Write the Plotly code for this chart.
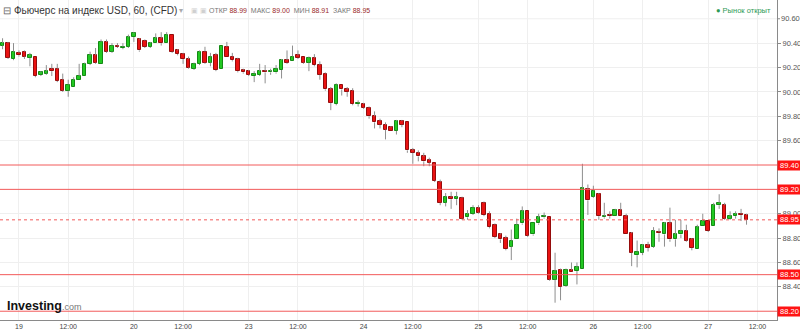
import plotly.graph_objects as go

# ---------------- data (hourly bars) ----------------
opens = [90.38, 90.40, 90.27, 90.32, 90.33, 90.28, 90.29, 90.14, 90.15, 90.19,
         90.19, 90.10, 90.01, 90.04, 90.10, 90.13, 90.23, 90.30, 90.23, 90.41,
         90.33, 90.38, 90.36, 90.37, 90.45, 90.43, 90.42, 90.37, 90.40, 90.44,
         90.40, 90.47, 90.34, 90.31, 90.27, 90.19, 90.23, 90.33, 90.24, 90.30,
         90.19, 90.37, 90.29, 90.27, 90.18, 90.17, 90.13, 90.14, 90.17, 90.16,
         90.16, 90.18, 90.26, 90.25, 90.30, 90.29, 90.24, 90.28, 90.22, 90.15,
         90.02, 89.90, 90.06, 90.02, 90.01, 89.90, 89.90, 89.87, 89.80, 89.76,
         89.73, 89.71, 89.68, 89.76, 89.75, 89.52, 89.50, 89.47, 89.44, 89.42,
         89.26, 89.09, 89.14, 89.12, 89.13, 88.97, 89.00, 89.05, 89.09, 89.00,
         88.91, 88.83, 88.80, 88.73, 88.79, 88.92, 89.02, 88.83, 88.92, 88.97,
         88.97, 88.46, 88.54, 88.41, 88.54, 88.53, 88.55, 89.20, 89.14, 89.16,
         88.97, 88.99, 88.98, 89.03, 88.98, 88.84, 88.66, 88.68, 88.74, 88.73,
         88.85, 88.83, 88.92, 88.79, 88.83, 88.86, 88.79, 88.71, 88.90, 88.94,
         88.90, 89.07, 89.07, 88.96, 88.98, 89.00, 88.99]
highs = [90.44, 90.41, 90.40, 90.34, 90.34, 90.32, 90.29, 90.17, 90.22, 90.23,
         90.23, 90.15, 90.10, 90.12, 90.23, 90.24, 90.33, 90.36, 90.43, 90.43,
         90.40, 90.40, 90.40, 90.47, 90.49, 90.44, 90.43, 90.41, 90.48, 90.49,
         90.49, 90.47, 90.35, 90.32, 90.29, 90.24, 90.34, 90.37, 90.32, 90.32,
         90.38, 90.41, 90.32, 90.28, 90.19, 90.18, 90.17, 90.23, 90.22, 90.19,
         90.22, 90.27, 90.34, 90.38, 90.34, 90.29, 90.29, 90.31, 90.25, 90.16,
         90.04, 90.07, 90.06, 90.04, 90.03, 89.93, 89.91, 89.88, 89.84, 89.78,
         89.75, 89.72, 89.77, 89.77, 89.75, 89.54, 89.52, 89.50, 89.46, 89.42,
         89.28, 89.17, 89.18, 89.18, 89.14, 89.03, 89.07, 89.07, 89.10, 89.02,
         88.92, 88.84, 88.82, 88.87, 88.96, 89.06, 89.02, 88.92, 89.00, 89.01,
         88.97, 88.68, 88.55, 88.55, 88.60, 88.60, 89.41, 89.24, 89.23, 89.17,
         89.09, 89.02, 89.04, 89.09, 89.00, 88.85, 88.78, 88.75, 88.77, 88.89,
         88.88, 88.93, 89.05, 88.95, 88.95, 88.91, 88.80, 88.91, 89.00, 88.94,
         89.09, 89.16, 89.09, 89.02, 89.02, 89.04, 89.00]
lows = [90.35, 90.27, 90.26, 90.29, 90.27, 90.21, 90.12, 90.13, 90.14, 90.13,
        90.08, 90.00, 89.96, 90.04, 90.10, 90.13, 90.22, 90.23, 90.23, 90.32,
        90.32, 90.36, 90.35, 90.36, 90.41, 90.33, 90.36, 90.36, 90.40, 90.38,
        90.40, 90.32, 90.30, 90.23, 90.19, 90.18, 90.22, 90.23, 90.21, 90.17,
        90.19, 90.29, 90.25, 90.16, 90.15, 90.13, 90.08, 90.13, 90.07, 90.14,
        90.15, 90.11, 90.23, 90.25, 90.27, 90.23, 90.17, 90.21, 90.10, 90.01,
        89.85, 89.89, 89.97, 89.96, 89.89, 89.88, 89.86, 89.78, 89.70, 89.70,
        89.61, 89.68, 89.65, 89.71, 89.50, 89.41, 89.43, 89.39, 89.39, 89.26,
        89.07, 89.06, 89.04, 89.07, 88.95, 88.95, 88.99, 89.00, 88.98, 88.88,
        88.80, 88.76, 88.70, 88.62, 88.79, 88.91, 88.81, 88.82, 88.91, 88.96,
        88.45, 88.27, 88.29, 88.40, 88.52, 88.42, 88.55, 88.99, 89.13, 88.95,
        88.96, 88.96, 88.98, 88.98, 88.83, 88.57, 88.56, 88.66, 88.69, 88.72,
        88.77, 88.73, 88.77, 88.73, 88.80, 88.77, 88.70, 88.71, 88.90, 88.85,
        88.90, 89.04, 88.95, 88.95, 88.96, 88.94, 88.91]
closes = [90.40, 90.28, 90.33, 90.30, 90.29, 90.30, 90.13, 90.16, 90.17, 90.17,
          90.09, 90.01, 90.06, 90.10, 90.13, 90.23, 90.30, 90.24, 90.41, 90.33,
          90.38, 90.37, 90.37, 90.45, 90.48, 90.34, 90.37, 90.40, 90.44, 90.40,
          90.47, 90.33, 90.31, 90.27, 90.20, 90.23, 90.33, 90.24, 90.29, 90.18,
          90.38, 90.29, 90.26, 90.17, 90.16, 90.14, 90.15, 90.17, 90.16, 90.17,
          90.19, 90.26, 90.24, 90.29, 90.28, 90.24, 90.28, 90.22, 90.14, 90.02,
          89.91, 90.06, 90.02, 90.00, 89.90, 89.91, 89.87, 89.80, 89.75, 89.73,
          89.69, 89.68, 89.76, 89.73, 89.52, 89.50, 89.47, 89.43, 89.42, 89.27,
          89.09, 89.14, 89.12, 89.14, 88.96, 89.00, 89.05, 89.01, 88.99, 88.89,
          88.81, 88.79, 88.71, 88.78, 88.91, 89.02, 88.82, 88.92, 88.97, 88.98,
          88.46, 88.53, 88.40, 88.54, 88.52, 88.56, 89.21, 89.11, 89.19, 88.98,
          88.98, 88.98, 89.03, 88.98, 88.83, 88.68, 88.69, 88.74, 88.72, 88.86,
          88.84, 88.92, 88.79, 88.83, 88.86, 88.78, 88.72, 88.89, 88.94, 88.86,
          89.07, 89.09, 88.96, 88.98, 89.00, 88.99, 88.95]
bar_idx = list(range(len(opens)))

tick_idx = [3, 12, 24, 33, 45, 54, 66, 75, 87, 96, 108, 117, 129, 138]
tick_text = ["19", "12:00", "20", "12:00", "23", "12:00", "24", "12:00",
             "25", "12:00", "26", "12:00", "27", "12:00"]
# price ticks whose labels are not hidden under the red level tags
price_ticks = [88.40, 88.60, 88.80, 89.00, 89.60, 89.80, 90.00, 90.20, 90.40]
top_tick = 90.60

level_solid = [89.40, 89.20, 88.50, 88.20]
last_close = closes[-1]

header_title = "Фьючерс на индекс USD, 60, (CFD)"
ohlc_labels = ["ОТКР", "МАКС", "МИН", "ЗАКР"]
ohlc_values = [88.99, 89.00, 88.91, 88.95]
market_status = "Рынок открыт"

# ---------------- styles ----------------
UP_FILL, UP_LINE = "#22c822", "#148a14"
DN_FILL, DN_LINE = "#ea1212", "#950c0c"
WICK = "#8e8e8e"
LEVEL = "#f25a5a"
GRID = "#efefef"
AXIS = "#8a8a8a"
FONT = "Arial"

# wick segments above and below each body
wx, wy = [], []
for i, o, h, l, c in zip(bar_idx, opens, highs, lows, closes):
    top, bot = max(o, c), min(o, c)
    wx += [i, i, None, i, i, None]
    wy += [h, top, None, bot, l, None]

up = [c >= o for o, c in zip(opens, closes)]
fig = go.Figure()
fig.add_trace(go.Scatter(x=wx, y=wy, mode="lines", line=dict(color=WICK, width=1),
                         hoverinfo="skip", showlegend=False))
fig.add_trace(go.Bar(
    x=bar_idx,
    base=[min(o, c) for o, c in zip(opens, closes)],
    y=[abs(c - o) for o, c in zip(opens, closes)],
    width=0.64,
    marker=dict(color=[UP_FILL if u else DN_FILL for u in up],
                line=dict(color=[UP_LINE if u else DN_LINE for u in up], width=1)),
    showlegend=False,
))

shapes = []
# gridline + tick mark for the topmost price level
shapes.append(dict(type="line", xref="paper", x0=0, x1=1, yref="y", y0=top_tick, y1=top_tick,
                   line=dict(color=GRID, width=1), layer="below"))
shapes.append(dict(type="line", xref="paper", x0=1, x1=1.0039, yref="y", y0=top_tick, y1=top_tick,
                   line=dict(color=AXIS, width=1), layer="above"))
for lvl in level_solid:
    shapes.append(dict(type="line", xref="paper", x0=0, x1=1, yref="y", y0=lvl, y1=lvl,
                       line=dict(color=LEVEL, width=1), layer="above"))
shapes.append(dict(type="line", xref="paper", x0=0, x1=1, yref="y", y0=last_close, y1=last_close,
                   line=dict(color=LEVEL, width=1, dash="dot"), layer="above"))

annotations = []
for lvl in level_solid + [last_close]:
    annotations.append(dict(xref="paper", x=1, xanchor="left", yref="y", y=lvl, yanchor="middle",
                            text=f"{lvl:.2f}", showarrow=False, bgcolor="#ff1414",
                            font=dict(family=FONT, size=7.5, color="white"),
                            width=21, height=7, borderpad=1, align="center"))

# topmost price label (drawn explicitly so it is not dropped at the plot edge)
annotations.append(dict(xref="paper", x=1, xshift=3, xanchor="left", yref="y", y=top_tick,
                        yanchor="middle", text=f"{top_tick:.2f}", showarrow=False, borderpad=0,
                        font=dict(family=FONT, size=7.5, color="#555")))

def hdr(px, text, size, color, py=10, anchor="left"):
    annotations.append(dict(xref="paper", x=0, xshift=px, xanchor=anchor,
                            yref="paper", y=1, yshift=-py, yanchor="middle",
                            text=text, showarrow=False,
                            font=dict(family=FONT, size=size, color=color)))

hdr(1, "⊟", 10, "#666")
hdr(12, header_title, 10, "#333")
hdr(177, "▾", 8, "#aaa")
hdr(189, "▣ ▣", 7, "#d0d0d0")
ohlc_txt = "  ".join(f"{lab} <span style='color:#9a2a2a'>{val:.2f}</span>"
                     for lab, val in zip(ohlc_labels, ohlc_values))
hdr(207, ohlc_txt, 7, "#777")
hdr(773, f"● {market_status}", 7.5, "#2d9a55", anchor="right")

annotations.append(dict(xref="paper", x=0, xshift=5, xanchor="left",
                        yref="paper", y=0, yshift=14, yanchor="middle",
                        text="<b>Investing</b><span style='font-size:9px;color:#777'>.com</span>",
                        showarrow=False, font=dict(family=FONT, size=12.5, color="#111")))

fig.update_layout(
    width=800, height=331,
    margin=dict(l=0, r=23, t=0, b=11),
    paper_bgcolor="white", plot_bgcolor="white",
    barmode="overlay", bargap=0,
    showlegend=False,
    xaxis=dict(range=[-0.47, 141.57], tickmode="array", tickvals=tick_idx, ticktext=tick_text,
               showgrid=True, gridcolor=GRID, gridwidth=1, zeroline=False,
               showline=True, linecolor=AXIS, linewidth=1, ticks="",
               tickfont=dict(family=FONT, size=7, color="#444"), fixedrange=True),
    yaxis=dict(side="right", range=[88.128, 90.754], tickmode="array",
               tickvals=price_ticks, tickformat=".2f", ticklabeloverflow="allow",
               showgrid=True, gridcolor=GRID, gridwidth=1, zeroline=False,
               showline=True, linecolor=AXIS, linewidth=1,
               ticks="outside", ticklen=3, tickcolor=AXIS,
               tickfont=dict(family=FONT, size=7.5, color="#555"), fixedrange=True),
    shapes=shapes,
    annotations=annotations,
)

fig.write_html("out.html")
